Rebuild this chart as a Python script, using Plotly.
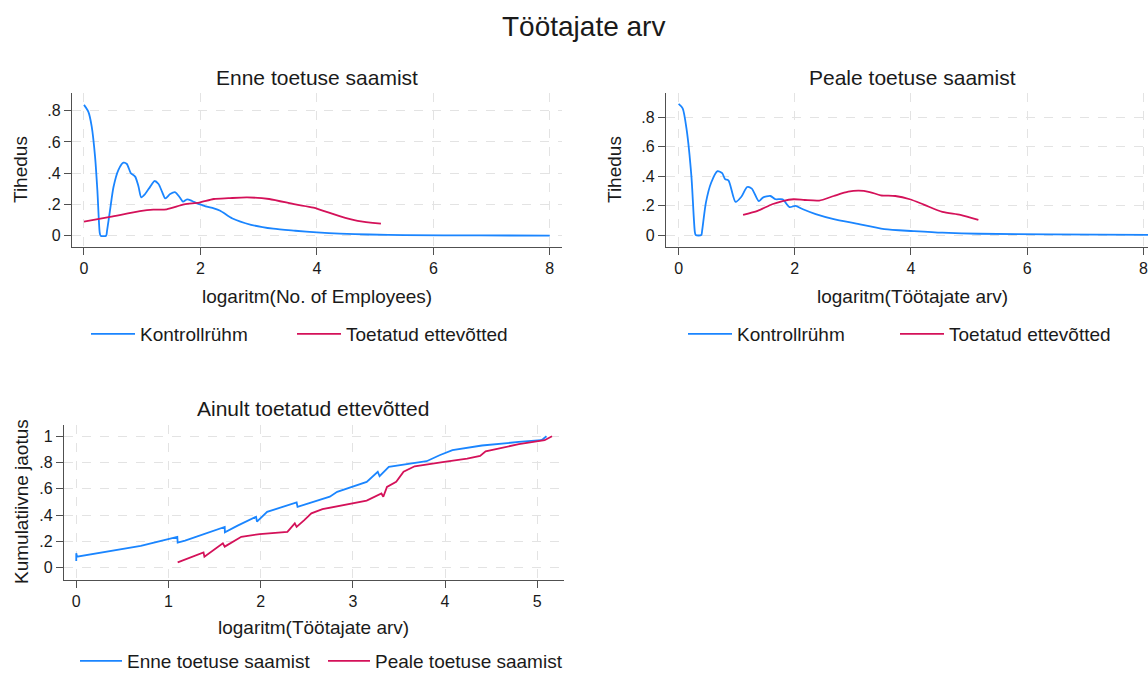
import plotly.graph_objects as go

# ---------------- data ----------------
# Panel 1: Enne toetuse saamist (kernel densities)
p1_ctrl_x = [0.0, 0.074, 0.132, 0.19, 0.23, 0.27, 0.285, 0.38, 0.395, 0.448, 0.506, 0.59, 0.678, 0.736, 0.805, 0.879,
             0.937, 0.983, 1.05, 1.138, 1.21, 1.28, 1.34, 1.397, 1.48, 1.569, 1.643, 1.70, 1.77, 1.857,
             1.94, 2.03, 2.11, 2.23, 2.34, 2.55, 2.87, 3.25, 3.63, 4.0, 4.39, 4.9, 5.5, 6.8, 8.0]
p1_ctrl_y = [0.837, 0.794, 0.70, 0.506, 0.29, 0.02, 0.0, 0.0, 0.03, 0.165, 0.31, 0.42, 0.467, 0.459, 0.40, 0.378,
             0.314, 0.246, 0.267, 0.314, 0.35, 0.331, 0.282, 0.239, 0.267, 0.278, 0.246, 0.218, 0.233, 0.222,
             0.207, 0.196, 0.186, 0.175, 0.160, 0.11, 0.07, 0.045, 0.032, 0.021, 0.013, 0.008, 0.004, 0.002, 0.001]
p1_treat_x = [0.0, 0.448, 0.96, 1.19, 1.42, 1.72, 1.98, 2.23, 2.48, 2.8, 3.18, 3.63, 3.94, 4.39, 4.7, 5.1]
p1_treat_y = [0.09, 0.12, 0.157, 0.167, 0.169, 0.20, 0.212, 0.235, 0.24, 0.245, 0.235, 0.20, 0.18, 0.125, 0.095, 0.077]

# Panel 2: Peale toetuse saamist (kernel densities)
p2_ctrl_x = [0.0, 0.07, 0.14, 0.22, 0.28, 0.295, 0.39, 0.405, 0.47, 0.56, 0.67, 0.75, 0.80, 0.86, 0.98, 1.08, 1.18,
             1.26, 1.38, 1.45, 1.58, 1.67, 1.79, 1.91, 2.01, 2.14, 2.36, 2.67, 3.04, 3.54, 4.04, 4.54,
             5.16, 6.4, 8.1]
p2_ctrl_y = [0.89, 0.86, 0.71, 0.40, 0.02, 0.0, 0.0, 0.03, 0.22, 0.355, 0.434, 0.42, 0.38, 0.37, 0.225, 0.26, 0.326,
             0.315, 0.23, 0.254, 0.265, 0.243, 0.243, 0.19, 0.198, 0.175, 0.142, 0.108, 0.079, 0.04, 0.027,
             0.016, 0.009, 0.004, 0.001]
p2_treat_x = [1.11, 1.36, 1.61, 1.79, 1.98, 2.17, 2.42, 2.67, 2.92, 3.1, 3.29, 3.48, 3.73, 3.98, 4.22, 4.54, 4.85, 5.16]
p2_treat_y = [0.137, 0.164, 0.209, 0.231, 0.243, 0.238, 0.234, 0.265, 0.294, 0.301, 0.292, 0.27, 0.265, 0.243,
              0.207, 0.157, 0.137, 0.103]

# Panel 3: Ainult toetatud ettevõtted (cumulative distributions)
p3_before_x = [0.0, 0.0, 0.008, 0.70, 1.096, 1.10, 1.18, 1.61, 1.612, 1.75, 1.95, 1.96, 2.07, 2.39, 2.40,
               2.75, 2.83, 3.15, 3.27, 3.29, 3.39, 3.80, 3.94, 4.08, 4.40, 4.80, 5.04, 5.06, 5.10]
p3_before_y = [0.05, 0.11, 0.084, 0.165, 0.235, 0.19, 0.205, 0.31, 0.27, 0.32, 0.387, 0.35, 0.425, 0.496, 0.463,
               0.54, 0.577, 0.653, 0.73, 0.696, 0.767, 0.81, 0.856, 0.894, 0.93, 0.957, 0.97, 0.977, 1.0]
p3_after_x = [1.10, 1.38, 1.39, 1.59, 1.61, 1.79, 1.99, 2.29, 2.37, 2.39, 2.47, 2.55, 2.67, 2.99, 3.15, 3.31,
              3.33, 3.37, 3.47, 3.55, 3.67, 3.99, 4.24, 4.38, 4.44, 4.80, 5.08, 5.16]
p3_after_y = [0.04, 0.116, 0.084, 0.185, 0.16, 0.235, 0.256, 0.273, 0.337, 0.31, 0.36, 0.413, 0.445, 0.49, 0.51,
              0.565, 0.54, 0.615, 0.653, 0.73, 0.772, 0.805, 0.83, 0.85, 0.886, 0.94, 0.97, 1.0]

density_ticks = [0, 0.2, 0.4, 0.6, 0.8]
density_ticktext = ["0", ".2", ".4", ".6", ".8"]
x_ticks_density = [0, 2, 4, 6, 8]
cdf_ticks = [0, 0.2, 0.4, 0.6, 0.8, 1.0]
cdf_ticktext = ["0", ".2", ".4", ".6", ".8", "1"]
x_ticks_cdf = [0, 1, 2, 3, 4, 5]

# ---------------- style ----------------
BLUE = "#1a85ff"
RED = "#d41159"
FONT = "Liberation Sans, Arial, sans-serif"
TXT = "#1a1a1a"
AX = "#505050"
GRID = "#e3e3e3"
W, H = 1148, 674

def px(x):
    return x / W

def py(y):
    return 1 - y / H

fig = go.Figure()

line_w = 1.8
dens = dict(shape="spline", smoothing=0.7)
fig.add_trace(go.Scatter(x=p1_ctrl_x, y=p1_ctrl_y, mode="lines", name="Kontrollrühm",
                         line=dict(color=BLUE, width=line_w, **dens), xaxis="x", yaxis="y", legend="legend"))
fig.add_trace(go.Scatter(x=p1_treat_x, y=p1_treat_y, mode="lines", name="Toetatud ettevõtted",
                         line=dict(color=RED, width=line_w, **dens), xaxis="x", yaxis="y", legend="legend2"))
fig.add_trace(go.Scatter(x=p2_ctrl_x, y=p2_ctrl_y, mode="lines", name="Kontrollrühm",
                         line=dict(color=BLUE, width=line_w, **dens), xaxis="x2", yaxis="y2", legend="legend3"))
fig.add_trace(go.Scatter(x=p2_treat_x, y=p2_treat_y, mode="lines", name="Toetatud ettevõtted",
                         line=dict(color=RED, width=line_w, **dens), xaxis="x2", yaxis="y2", legend="legend4"))
fig.add_trace(go.Scatter(x=p3_before_x, y=p3_before_y, mode="lines", name="Enne toetuse saamist",
                         line=dict(color=BLUE, width=line_w), xaxis="x3", yaxis="y3", legend="legend5"))
fig.add_trace(go.Scatter(x=p3_after_x, y=p3_after_y, mode="lines", name="Peale toetuse saamist",
                         line=dict(color=RED, width=line_w), xaxis="x3", yaxis="y3", legend="legend6"))

def axis_common():
    return dict(showline=True, linecolor=AX, linewidth=1.3, ticks="outside",
                ticklen=7, tickcolor=AX, tickwidth=1.2, showgrid=True, gridcolor=GRID, griddash="dash",
                gridwidth=1, zeroline=False, tickfont=dict(size=16, color=TXT, family=FONT), fixedrange=True)

def xax(domain, rng, ticks, anchor):
    return dict(domain=domain, range=rng, tickvals=ticks, ticktext=[str(t) for t in ticks],
                anchor=anchor, **axis_common())

def yax(domain, rng, ticks, text, anchor):
    return dict(domain=domain, range=rng, tickvals=ticks, ticktext=text, anchor=anchor, **axis_common())

def leg(x, y, iw):
    return dict(x=px(x), y=py(y), orientation="h", font=dict(size=19, color=TXT, family=FONT),
                bgcolor="rgba(0,0,0,0)", xanchor="left", yanchor="middle", itemclick=False,
                itemdoubleclick=False, itemwidth=iw)

fig.update_layout(
    width=W, height=H,
    margin=dict(l=0, r=0, t=0, b=0, autoexpand=False),
    paper_bgcolor="white", plot_bgcolor="white",
    font=dict(family=FONT, color=TXT),
    xaxis=xax([px(72), px(562)], [-0.206, 8.21], x_ticks_density, "y"),
    yaxis=yax([py(247), py(93)], [-0.072, 0.913], density_ticks, density_ticktext, "x"),
    xaxis2=xax([px(666), 1.0], [-0.217, 8.08], x_ticks_density, "y2"),
    yaxis2=yax([py(247), py(93)], [-0.081, 0.964], density_ticks, density_ticktext, "x2"),
    xaxis3=xax([px(64), px(564)], [-0.133, 5.29], x_ticks_cdf, "y3"),
    yaxis3=yax([py(580), py(425)], [-0.094, 1.086], cdf_ticks, cdf_ticktext, "x3"),
    legend=leg(86, 334, 44),
    legend2=leg(292, 334, 44),
    legend3=leg(683, 334, 44),
    legend4=leg(895, 334, 44),
    legend5=leg(75, 661, 42),
    legend6=leg(323, 661, 42),
    showlegend=True,
)

def ann(text, x, y, size, angle=0):
    fig.add_annotation(text=text, x=px(x), y=py(y), xref="paper", yref="paper", showarrow=False,
                       xanchor="center", yanchor="middle", textangle=angle,
                       font=dict(size=size, color=TXT, family=FONT))

ann("Töötajate arv", 583, 27, 28)
ann("Enne toetuse saamist", 317, 77, 21)
ann("Peale toetuse saamist", 912, 77, 21)
ann("Ainult toetatud ettevõtted", 313, 408, 21)
ann("logaritm(No. of Employees)", 317, 296, 19)
ann("logaritm(Töötajate arv)", 912, 296, 19)
ann("logaritm(Töötajate arv)", 314, 627, 19)
ann("Tihedus", 21, 170, 19, -90)
ann("Tihedus", 615, 170, 19, -90)
ann("Kumulatiivne jaotus", 21, 502, 19, -90)

fig.write_html("out.html")
